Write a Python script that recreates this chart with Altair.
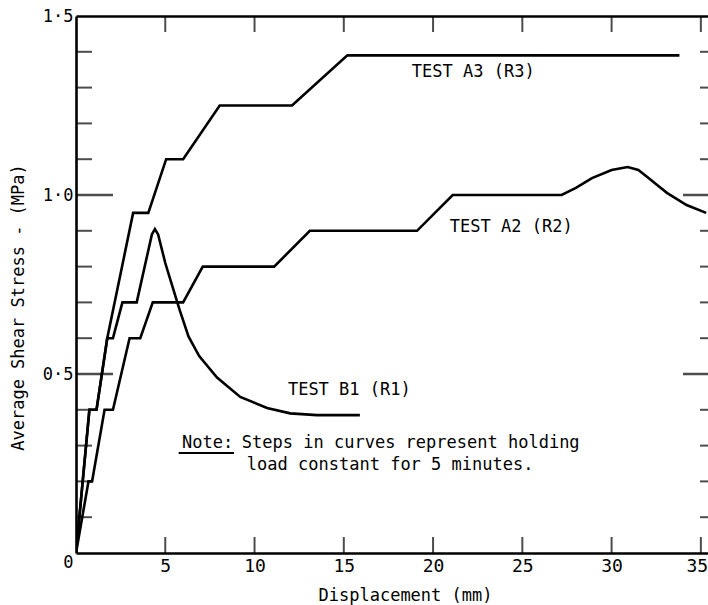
import altair as alt
import pandas as pd

# ---- data ----
a3_x = [0, 0.75, 1.15, 1.75, 3.2, 4.05, 5.05, 6.0, 8.05, 12.1, 15.2, 33.8]
a3_y = [0, 0.40, 0.40, 0.60, 0.95, 0.95, 1.10, 1.10, 1.25, 1.25, 1.39, 1.39]

a2_x = [0, 0.7, 0.9, 1.6, 2.07, 3.0, 3.6, 4.3, 6.0, 7.1, 11.1, 13.1, 19.1, 21.1,
        27.2, 28.0, 28.9, 30.0, 30.9, 31.5, 32.0, 32.5, 33.1, 34.2, 35.3]
a2_y = [0, 0.2, 0.2, 0.4, 0.4, 0.6, 0.6, 0.7, 0.7, 0.8, 0.8, 0.9, 0.9, 1.0,
        1.0, 1.02, 1.047, 1.07, 1.078, 1.07, 1.05, 1.03, 1.006, 0.972, 0.95]

b1_x = [0, 0.75, 1.15, 1.75, 2.07, 2.6, 3.4, 4.25, 4.42, 4.6, 5.0, 5.4, 5.8,
        6.3, 6.9, 7.9, 9.2, 10.7, 12.0, 13.5, 15.9]
b1_y = [0, 0.40, 0.40, 0.60, 0.60, 0.70, 0.70, 0.89, 0.905, 0.89, 0.81, 0.745,
        0.68, 0.605, 0.55, 0.49, 0.436, 0.405, 0.39, 0.385, 0.385]

x_tick_values = [5, 10, 15, 20, 25, 30, 35]
x_tick_labels = ["5", "10", "15", "20", "25", "30", "35"]
y_tick_values = [0, 0.5, 1.0, 1.5]
y_tick_labels = ["0", "0·5", "1·0", "1·5"]
y_minor_ticks = [0.1, 0.2, 0.3, 0.4, 0.6, 0.7, 0.8, 0.9, 1.1, 1.2, 1.3, 1.4]
y_major_ticks = [0.5, 1.0]

x_title = "Displacement (mm)"
y_title = "Average Shear Stress - (MPa)"

note_text = ["TEST A3 (R3)", "TEST A2 (R2)", "TEST B1 (R1)", "Note:",
             "Steps in curves represent holding", "load constant for 5 minutes."]
note_x = [18.81, 20.94, 11.87, 5.94, 9.29, 9.57]
note_y = [1.343, 0.911, 0.455, 0.307, 0.307, 0.246]

underline_x = [5.75]
underline_x2 = [8.85]
underline_y = [0.279]

# ---- helpers ----
FONT = "DejaVu Sans Mono"
X_DOMAIN = [0, 35.4]
Y_DOMAIN = [0, 1.5]


def label_expr(values, labels):
    expr = "''"
    for v, l in reversed(list(zip(values, labels))):
        expr = f"abs(datum.value - {v}) < 1e-6 ? '{l}' : ({expr})"
    return expr


def xs():
    return alt.Scale(domain=X_DOMAIN, nice=False, zero=False)


def ys():
    return alt.Scale(domain=Y_DOMAIN, nice=False, zero=False)


x_main = alt.Axis(orient="bottom", values=x_tick_values,
                  labelExpr=label_expr(x_tick_values, x_tick_labels),
                  labelOffset={"condition": {"test": "datum.value === 35", "value": -4},
                               "value": 0},
                  ticks=False, tickSize=0, domain=True, domainWidth=2.6,
                  domainColor="black", grid=False, labelFlush=False,
                  labelPadding=4, labelFont=FONT, labelFontSize=18,
                  labelColor="black", title=x_title, titleFont=FONT,
                  titleFontSize=17, titleFontWeight="normal", titleColor="black",
                  titleX={"expr": "329"}, titleY=42, titleBaseline="middle",
                  titleAlign="center")

y_main = alt.Axis(orient="left", values=y_tick_values,
                  labelExpr=label_expr(y_tick_values, y_tick_labels),
                  ticks=False, tickSize=0, domain=True, domainWidth=2.6,
                  domainColor="black", grid=False, labelPadding=3,
                  labelOffset={"condition": {"test": "datum.value === 0", "value": 9},
                               "value": 0},
                  labelFont=FONT, labelFontSize=17, labelColor="black",
                  title=y_title, titleFont=FONT, titleFontSize=17,
                  titleFontWeight="normal", titleColor="black", titleAngle=270,
                  titleX=-58, titleY={"expr": "291"}, titleBaseline="middle",
                  titleAlign="center")

x_top_domain = alt.Axis(orient="top", ticks=False, tickSize=0, labels=False,
                        domain=True, domainWidth=2.6, domainColor="black",
                        grid=False, title=None)

df_a3 = pd.DataFrame({"x": a3_x, "y": a3_y, "i": range(len(a3_x))})
df_a2 = pd.DataFrame({"x": a2_x, "y": a2_y, "i": range(len(a2_x))})
df_b1 = pd.DataFrame({"x": b1_x, "y": b1_y, "i": range(len(b1_x))})
df_txt = pd.DataFrame({"t": note_text, "x": note_x, "y": note_y})
df_ul = pd.DataFrame({"x": underline_x, "x2": underline_x2, "y": underline_y})
df_xt = pd.DataFrame({"x": x_tick_values})
df_ymin = pd.DataFrame({"y": y_minor_ticks})
df_ymaj = pd.DataFrame({"y": y_major_ticks})

line_style = dict(color="black", strokeWidth=2.6, clip=True)

l_a3 = alt.Chart(df_a3).mark_line(**line_style).encode(
    x=alt.X("x:Q", scale=xs(), axis=x_main),
    y=alt.Y("y:Q", scale=ys(), axis=y_main),
    order="i:Q",
)

l_a2 = alt.Chart(df_a2).mark_line(**line_style).encode(
    x=alt.X("x:Q", scale=xs(), axis=None),
    y=alt.Y("y:Q", scale=ys(), axis=None),
    order="i:Q",
)

l_b1 = alt.Chart(df_b1).mark_line(**line_style).encode(
    x=alt.X("x:Q", scale=xs(), axis=x_top_domain),
    y=alt.Y("y:Q", scale=ys(), axis=None),
    order="i:Q",
)

l_txt = alt.Chart(df_txt).mark_text(align="left", baseline="middle", font=FONT,
                                     fontSize=17, color="black").encode(
    x=alt.X("x:Q", scale=xs(), axis=None),
    y=alt.Y("y:Q", scale=ys(), axis=None),
    text="t:N",
)

l_ul = alt.Chart(df_ul).mark_rule(color="black", strokeWidth=2).encode(
    x=alt.X("x:Q", scale=xs(), axis=None),
    x2="x2:Q",
    y=alt.Y("y:Q", scale=ys(), axis=None),
)


def hticks(df, xpos, size, thick=2):
    # horizontal tick marks centred on a plot edge; the half outside is clipped
    return alt.Chart(df).mark_tick(orient="horizontal", size=size, thickness=thick,
                                   color="black", clip=True).encode(
        x=alt.XDatum(xpos, scale=xs(), axis=None),
        y=alt.Y("y:Q", scale=ys(), axis=None),
    )


def vticks(df, ypos, size, thick=2):
    return alt.Chart(df).mark_tick(orient="vertical", size=size, thickness=thick,
                                   color="black", clip=True).encode(
        x=alt.X("x:Q", scale=xs(), axis=None),
        y=alt.YDatum(ypos, scale=ys(), axis=None),
    )


t_left_min = hticks(df_ymin, X_DOMAIN[0], 32)
t_left_maj = hticks(df_ymaj, X_DOMAIN[0], 74, 2.4)
t_right_min = hticks(df_ymin, X_DOMAIN[1], 16)
t_right_maj = hticks(df_ymaj, X_DOMAIN[1], 50, 2.4)
t_bottom = vticks(df_xt, Y_DOMAIN[0], 32)
t_top = vticks(df_xt, Y_DOMAIN[1], 32)

chart = (
    alt.layer(l_a3, l_a2, l_b1, l_txt, l_ul,
              t_left_min, t_left_maj, t_right_min, t_right_maj, t_bottom, t_top)
    .resolve_axis(x="independent", y="independent")
    .properties(width=632, height=537,
                autosize=alt.AutoSizeParams(type="none"),
                padding={"left": 76, "top": 16, "right": 0, "bottom": 52},
                background="white")
    .configure_view(strokeWidth=0)
)

chart.save("out.html", embed_options={"renderer": "svg", "actions": False})
